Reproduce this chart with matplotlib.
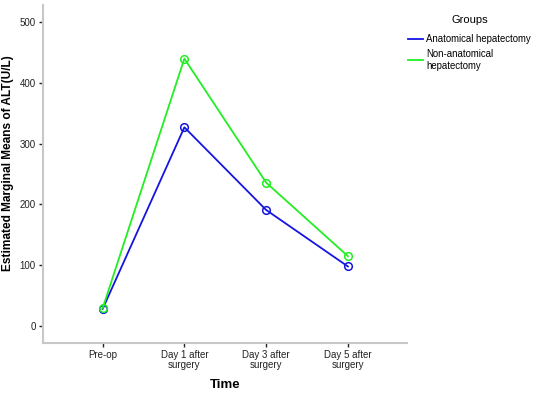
import matplotlib
matplotlib.use("Agg")
import matplotlib.pyplot as plt

time_labels = ["Pre-op", "Day 1 after\nsurgery", "Day 3 after\nsurgery", "Day 5 after\nsurgery"]
anatomical = [28, 327, 191, 98]
non_anatomical = [29, 440, 236, 115]
y_ticks = [0, 100, 200, 300, 400, 500]

plt.rcParams["font.family"] = ["Liberation Sans", "DejaVu Sans"]

fig = plt.figure(figsize=(5.36, 3.93), dpi=100)
ax = fig.add_axes([0.080, 0.127, 0.679, 0.860])

x = range(len(time_labels))
ax.plot(x, anatomical, color="#1515e0", linewidth=1.3, marker="o", markersize=5.5,
        markerfacecolor="none", markeredgewidth=1.1, label="Anatomical hepatectomy")
ax.plot(x, non_anatomical, color="#22ee22", linewidth=1.3, marker="o", markersize=5.5,
        markerfacecolor="none", markeredgewidth=1.1, label="Non-anatomical\nhepatectomy")

ax.set_xlim(-0.73, 3.72)
ax.set_ylim(-28, 528)
ax.set_xticks(list(x))
ax.set_xticklabels(time_labels, fontsize=7, color="#222222", linespacing=0.95)
ax.set_yticks(y_ticks)
ax.set_yticklabels([str(v) for v in y_ticks], fontsize=7, color="#222222")
ax.tick_params(axis="both", length=3, width=1, color="#222222", pad=2)

for side in ["top", "right"]:
    ax.spines[side].set_visible(False)
for side in ["left", "bottom"]:
    ax.spines[side].set_color("#c8c8c8")
    ax.spines[side].set_linewidth(1.5)

ax.set_ylabel("Estimated Marginal Means of ALT(U/L)", fontsize=8.6, fontweight="bold")
ax.yaxis.set_label_coords(-0.078, 0.533)
ax.set_xlabel("Time", fontsize=9.5, fontweight="bold")
ax.xaxis.set_label_coords(0.5, -0.105)

leg = fig.legend(loc="upper left", bbox_to_anchor=(0.745, 0.985), frameon=False,
                 title="Groups", fontsize=6.9, title_fontsize=8,
                 handlelength=1.6, handletextpad=0.3, labelspacing=0.5)
leg._legend_box.sep = 7
for h in leg.legend_handles:
    h.set_marker("")

fig.savefig("out.png", dpi=100)
